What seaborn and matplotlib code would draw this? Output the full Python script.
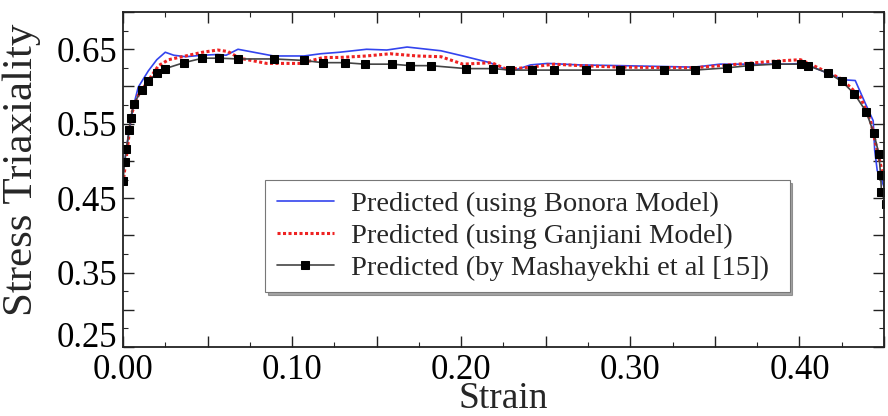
import numpy as np
import pandas as pd
import matplotlib
matplotlib.use("Agg")
import matplotlib.pyplot as plt
from matplotlib.ticker import MultipleLocator
import seaborn as sns

# valori
bon_strain = [0.000, 0.003, 0.006, 0.009, 0.015, 0.020, 0.025, 0.030, 0.037, 0.047, 0.056, 0.061,
              0.068, 0.089, 0.107, 0.117, 0.128, 0.144, 0.156, 0.168, 0.180, 0.188, 0.201, 0.217,
              0.226, 0.233, 0.241, 0.251, 0.270, 0.294, 0.338, 0.353, 0.393, 0.4015, 0.408, 0.426,
              0.433, 0.439, 0.4436, 0.4445, 0.446, 0.448, 0.450]
bon_val = [0.483, 0.532, 0.572, 0.599, 0.621, 0.636, 0.646, 0.642, 0.640, 0.642, 0.643, 0.642,
           0.650, 0.641, 0.641, 0.644, 0.646, 0.650, 0.649, 0.653, 0.650, 0.648, 0.641, 0.632,
           0.623, 0.623, 0.629, 0.631, 0.629, 0.628, 0.626, 0.630, 0.630, 0.631, 0.626, 0.609,
           0.608, 0.577, 0.554, 0.514, 0.487, 0.478, 0.465]

gan_strain = [0.000, 0.002, 0.005, 0.009, 0.015, 0.021, 0.027, 0.037, 0.047, 0.056, 0.062, 0.069,
              0.085, 0.105, 0.1185, 0.128, 0.144, 0.158, 0.174, 0.188, 0.201, 0.218, 0.227, 0.241,
              0.255, 0.270, 0.294, 0.337, 0.369, 0.385, 0.4006, 0.4065, 0.425, 0.436, 0.442, 0.446,
              0.449, 0.451]
gan_val = [0.470, 0.505, 0.563, 0.588, 0.608, 0.628, 0.636, 0.641, 0.646, 0.649, 0.647, 0.638,
           0.631, 0.631, 0.639, 0.639, 0.641, 0.644, 0.641, 0.640, 0.630, 0.632, 0.623, 0.626,
           0.630, 0.628, 0.626, 0.625, 0.631, 0.634, 0.636, 0.630, 0.610, 0.586, 0.554, 0.514,
           0.485, 0.472]

mash_strain = [0.000, 0.001, 0.002, 0.0038, 0.0045, 0.0065, 0.011, 0.015, 0.020, 0.025, 0.036,
               0.047, 0.057, 0.068, 0.089, 0.107, 0.118, 0.131, 0.143, 0.159, 0.170, 0.182, 0.203,
               0.219, 0.229, 0.242, 0.255, 0.274, 0.294, 0.320, 0.338, 0.357, 0.370, 0.386, 0.401,
               0.405, 0.417, 0.425, 0.4325, 0.4395, 0.444, 0.447, 0.448, 0.4485, 0.451]
mash_val = [0.473, 0.498, 0.516, 0.542, 0.558, 0.577, 0.595, 0.607, 0.618, 0.624, 0.632,
            0.638, 0.638, 0.637, 0.637, 0.635, 0.632, 0.632, 0.630, 0.630, 0.628, 0.628, 0.624,
            0.624, 0.622, 0.622, 0.622, 0.622, 0.622, 0.622, 0.622, 0.625, 0.628, 0.630, 0.630,
            0.628, 0.618, 0.607, 0.590, 0.566, 0.537, 0.509, 0.481, 0.458, 0.442]

labels = ["Predicted (using Bonora Model)",
          "Predicted (using Ganjiani Model)",
          "Predicted (by Mashayekhi et al [15])"]

sns.set_style("ticks")
plt.rcParams['font.family'] = ['Liberation Serif', 'DejaVu Serif']

fig = plt.figure(figsize=(8.88, 4.16), dpi=100)
ax = fig.add_axes([0.1385, 0.166, 0.857, 0.805])

sns.lineplot(x=bon_strain, y=bon_val, ax=ax, color='#3344ee', linewidth=1.2,
             label=labels[0], sort=False, estimator=None)
sns.lineplot(x=gan_strain, y=gan_val, ax=ax, color='#ee2222', linewidth=2.2,
             linestyle=(0, (1, 0.8)), label=labels[1], sort=False, estimator=None)
sns.lineplot(x=mash_strain, y=mash_val, ax=ax, color='#444444', linewidth=1.2,
             marker='s', markersize=5.5, markerfacecolor='black', markeredgecolor='black',
             label=labels[2], sort=False, estimator=None)

ax.xaxis.set_major_locator(MultipleLocator(0.05))
ax.xaxis.set_minor_locator(MultipleLocator(0.025))
ax.yaxis.set_major_locator(MultipleLocator(0.05))
ax.yaxis.set_minor_locator(MultipleLocator(0.025))
ax.set_xlim(0, 0.45)
ax.set_ylim(0.25, 0.70)
ax.set_xticks(ax.get_xticks())
ax.set_yticks(ax.get_yticks())
ax.set_xticklabels([f"{v:.2f}" if round(v * 100) % 10 == 0 else "" for v in ax.get_xticks()])
ax.set_yticklabels([f"{v:.2f}" if round(v * 100) % 10 == 5 else "" for v in ax.get_yticks()])
ax.set_xlim(0, 0.45)
ax.set_ylim(0.25, 0.70)

ax.tick_params(which='major', direction='in', length=8, width=1, labelsize=25,
               top=True, right=True, colors='#222222', labelcolor='black')
ax.tick_params(axis='x', which='major', pad=5)
ax.tick_params(axis='y', which='major', pad=4)
ax.tick_params(which='minor', direction='in', length=3.5, width=0.8, top=True, right=True)
for s in ax.spines.values():
    s.set_linewidth(1.3)
    s.set_color('#222222')

# l'etichetta 0.25 sta sopra il tick, come nell'originale
for lab in ax.get_yticklabels():
    if lab.get_text() == "0.25":
        lab.set_verticalalignment('baseline')

ax.set_xlabel("Strain", fontsize=27, labelpad=-4)
ax.set_ylabel("Stress Triaxiality", fontsize=31)
ax.yaxis.set_label_coords(-0.108, 0.53)

leg = ax.legend(loc='lower left', bbox_to_anchor=(0.187, 0.164, 0.689, 0.335), mode='expand',
                borderaxespad=0, fontsize=20.5, handlelength=2.0, handletextpad=0.6,
                labelspacing=0.2, frameon=True, fancybox=False, shadow=True, borderpad=0.4)
leg.get_frame().set_edgecolor('#777777')
leg.get_frame().set_linewidth(0.8)

plt.savefig("out.png", dpi=100)
plt.close()
